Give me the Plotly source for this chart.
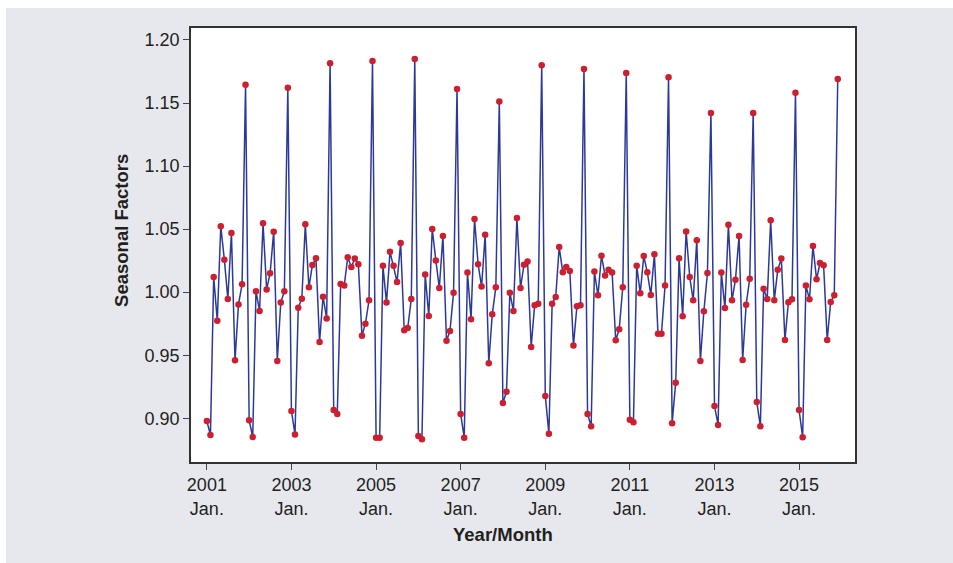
import pandas as pd
import plotly.graph_objects as go

# Monthly seasonal factors, Jan 2001 .. Dec 2015
months = pd.date_range("2001-01-01", periods=180, freq="MS")

factors_2001 = [0.8978, 0.8867, 1.0120, 0.9774, 1.0522, 1.0258, 0.9946, 1.0469, 0.9459, 0.9903, 1.0062, 1.1645]
factors_2002 = [0.8984, 0.8851, 1.0007, 0.9851, 1.0546, 1.0022, 1.0149, 1.0480, 0.9454, 0.9917, 1.0007, 1.1622]
factors_2003 = [0.9058, 0.8872, 0.9877, 0.9948, 1.0538, 1.0038, 1.0215, 1.0268, 0.9605, 0.9964, 0.9792, 1.1815]
factors_2004 = [0.9066, 0.9034, 1.0065, 1.0052, 1.0276, 1.0200, 1.0266, 1.0221, 0.9655, 0.9750, 0.9935, 1.1833]
factors_2005 = [0.8846, 0.8846, 1.0210, 0.9917, 1.0321, 1.0210, 1.0081, 1.0390, 0.9697, 0.9716, 0.9946, 1.1849]
factors_2006 = [0.8859, 0.8833, 1.0141, 0.9811, 1.0501, 1.0252, 1.0033, 1.0445, 0.9615, 0.9692, 0.9996, 1.1611]
factors_2007 = [0.9034, 0.8846, 1.0155, 0.9785, 1.0580, 1.0221, 1.0044, 1.0456, 0.9436, 0.9824, 1.0038, 1.1513]
factors_2008 = [0.9121, 0.9211, 0.9996, 0.9851, 1.0588, 1.0033, 1.0218, 1.0244, 0.9565, 0.9896, 0.9909, 1.1799]
factors_2009 = [0.9177, 0.8878, 0.9909, 0.9962, 1.0358, 1.0157, 1.0200, 1.0168, 0.9576, 0.9888, 0.9896, 1.1770]
factors_2010 = [0.9034, 0.8936, 1.0163, 0.9975, 1.0289, 1.0133, 1.0178, 1.0155, 0.9618, 0.9705, 1.0038, 1.1738]
factors_2011 = [0.8989, 0.8968, 1.0210, 0.9991, 1.0287, 1.0157, 0.9978, 1.0300, 0.9671, 0.9671, 1.0052, 1.1704]
factors_2012 = [0.8960, 0.9282, 1.0268, 0.9808, 1.0482, 1.0120, 0.9935, 1.0411, 0.9454, 0.9848, 1.0152, 1.1421]
factors_2013 = [0.9097, 0.8947, 1.0155, 0.9874, 1.0535, 0.9935, 1.0099, 1.0445, 0.9462, 0.9901, 1.0107, 1.1421]
factors_2014 = [0.9129, 0.8936, 1.0028, 0.9946, 1.0570, 0.9935, 1.0178, 1.0266, 0.9621, 0.9919, 0.9943, 1.1582]
factors_2015 = [0.9066, 0.8849, 1.0052, 0.9943, 1.0366, 1.0102, 1.0231, 1.0213, 0.9621, 0.9922, 0.9975, 1.1690]

seasonal_factors = (factors_2001 + factors_2002 + factors_2003 + factors_2004 + factors_2005
                    + factors_2006 + factors_2007 + factors_2008 + factors_2009 + factors_2010
                    + factors_2011 + factors_2012 + factors_2013 + factors_2014 + factors_2015)

tick_dates = ["2001-01-01", "2003-01-01", "2005-01-01", "2007-01-01",
              "2009-01-01", "2011-01-01", "2013-01-01", "2015-01-01"]
tick_labels = ["2001<br>Jan.", "2003<br>Jan.", "2005<br>Jan.", "2007<br>Jan.",
               "2009<br>Jan.", "2011<br>Jan.", "2013<br>Jan.", "2015<br>Jan."]
y_ticks = [0.90, 0.95, 1.00, 1.05, 1.10, 1.15, 1.20]
y_tick_labels = ["0.90", "0.95", "1.00", "1.05", "1.10", "1.15", "1.20"]

BG = "#e7e8ee"
FONT = "Liberation Sans, Arial, Helvetica, sans-serif"
TXT = "#231f20"

fig = go.Figure()
fig.add_trace(go.Scatter(
    x=months, y=seasonal_factors, mode="lines+markers",
    line=dict(color="#2b3a98", width=1.5),
    marker=dict(color="#cc1f2f", size=6.5, line=dict(width=0)),
    showlegend=False,
))

fig.update_layout(
    width=947, height=555,
    margin=dict(l=185, r=98, t=20, b=101),
    paper_bgcolor=BG, plot_bgcolor="white",
    font=dict(family=FONT, size=18, color=TXT),
    xaxis=dict(
        range=["2000-08-17", "2016-04-28"],
        tickmode="array", tickvals=tick_dates, ticktext=tick_labels,
        ticks="outside", ticklen=6, tickcolor="#444", tickwidth=1,
        showgrid=False, zeroline=False,
        showline=True, linecolor="#333", linewidth=1.5, mirror=True,
        tickfont=dict(size=18, color=TXT),
    ),
    yaxis=dict(
        range=[0.8653, 1.2095],
        tickmode="array", tickvals=y_ticks, ticktext=y_tick_labels,
        ticks="outside", ticklen=6, tickcolor="#444", tickwidth=1,
        showgrid=False, zeroline=False,
        showline=True, linecolor="#333", linewidth=1.5, mirror=True,
        tickfont=dict(size=18, color=TXT),
    ),
    annotations=[
        dict(text="<b>Seasonal Factors</b>", xref="paper", yref="paper",
             x=-0.104, y=0.5346, textangle=-90, showarrow=False,
             xanchor="center", yanchor="middle", font=dict(size=18.5, color=TXT)),
        dict(text="<b>Year/Month</b>", xref="paper", yref="paper",
             x=0.470, y=-0.168, showarrow=False,
             xanchor="center", yanchor="middle", font=dict(size=18.5, color=TXT)),
    ],
)

fig.write_html(
    "out.html",
    post_script="document.body.style.margin='8px 0 0 6px';document.body.style.overflow='hidden';",
)
